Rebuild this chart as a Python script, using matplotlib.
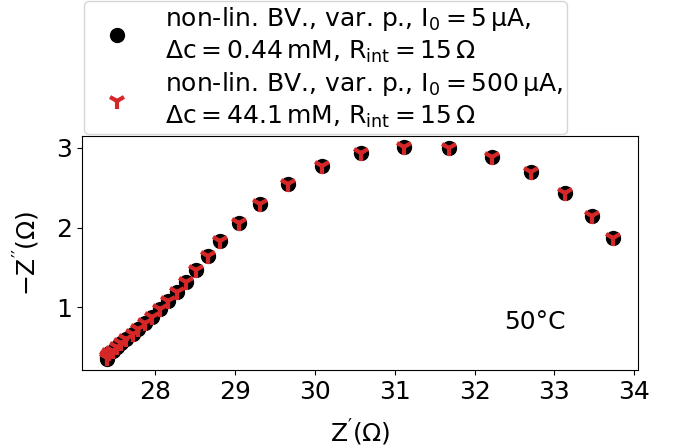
import numpy as np
import matplotlib.pyplot as plt

# Nyquist data (Z' in Ohm, -Z'' in Ohm)
z_re = [27.40, 27.40, 27.43, 27.48, 27.53, 27.58, 27.64, 27.72, 27.79, 27.87,
        27.96, 28.06, 28.16, 28.27, 28.39, 28.51, 28.66, 28.82, 29.05, 29.31,
        29.66, 30.09, 30.58, 31.12, 31.68, 32.22, 32.71, 33.13, 33.47, 33.73]
z_im = [0.35, 0.38, 0.43, 0.46, 0.50, 0.55, 0.60, 0.665, 0.725, 0.80,
        0.88, 0.975, 1.08, 1.195, 1.32, 1.47, 1.64, 1.83, 2.06, 2.30,
        2.54, 2.77, 2.93, 3.01, 3.00, 2.88, 2.69, 2.43, 2.15, 1.875]

z_re_hi = z_re
z_im_hi = [0.37, 0.39, 0.43, 0.46, 0.50, 0.55, 0.60, 0.665, 0.725, 0.80,
           0.88, 0.975, 1.08, 1.195, 1.32, 1.47, 1.64, 1.83, 2.06, 2.30,
           2.54, 2.77, 2.93, 3.01, 3.00, 2.88, 2.69, 2.43, 2.15, 1.875]

label_lo = ('non-lin. BV., var. p., $I_0 = 5\\,μA$,\n'
            '$Δc = 0.44\\,mM$, $R_{int} = 15\\,Ω$')
label_hi = ('non-lin. BV., var. p., $I_0 = 500\\,μA$,\n'
            '$Δc = 44.1\\,mM$, $R_{int} = 15\\,Ω$')

plt.rcParams['font.size'] = 18
plt.rcParams['mathtext.default'] = 'regular'

fig = plt.figure(figsize=(6.81, 4.48), dpi=100)
ax = fig.add_axes([0.120, 0.174, 0.817, 0.522])

ax.plot(z_re, z_im, 'o', color='black', markersize=10, label=label_lo)
ax.plot(z_re_hi, z_im_hi, '1', color='#d62728', markersize=12, mew=3, label=label_hi)

ax.set_xlabel("$Z^{\\prime}(Ω)$", labelpad=10)
ax.set_ylabel("$-Z^{\\prime\\prime}(Ω)$", labelpad=10)
ax.set_xticks([28, 29, 30, 31, 32, 33, 34])
ax.set_yticks([1, 2, 3])

ax.text(0.815, 0.205, '50°C', transform=ax.transAxes, ha='center', va='center')

leg = ax.legend(loc='lower left', bbox_to_anchor=(0.0, 1.0), borderaxespad=0.1,
                labelspacing=0.2, borderpad=0.15, handletextpad=0.8, handlelength=2.3)
for t in leg.get_texts():
    t.set_linespacing(1.3)

fig.savefig('out.png', dpi=100)
